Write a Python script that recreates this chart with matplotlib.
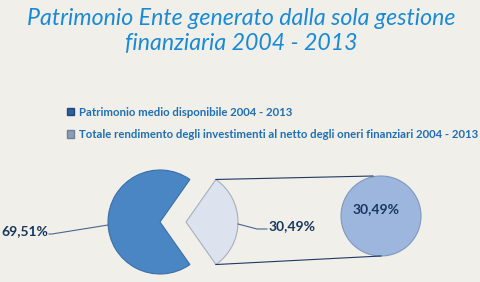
import numpy as np
import matplotlib
matplotlib.use("Agg")
import matplotlib.pyplot as plt
from matplotlib.patches import Patch

# data
categories = ["Patrimonio medio disponibile 2004 - 2013",
              "Totale rendimento degli investimenti al netto degli oneri finanziari 2004 - 2013"]
values = [69.51, 30.49]
secondary = [30.49]
title = "Patrimonio Ente generato dalla sola gestione\nfinanziaria 2004 - 2013"

plt.rcParams['font.family'] = ['Lato', 'DejaVu Sans']

bg = '#f1efe9'
fig = plt.figure(figsize=(4.81, 2.82), dpi=100, facecolor=bg)
ax = fig.add_axes([0, 0, 1, 1])
ax.set_facecolor(bg)

# pixel-like coordinate system (y down)
main_c = (160, 222)
r_main = 52
explode = 26
sec_c = (381, 216)
r_sec = 40

half = values[1] * 3.6 / 2
wedges, _ = ax.pie(values, center=main_c, radius=r_main, startangle=half,
                   explode=[0, explode], colors=['#4a86c4', '#dde3ee'],
                   wedgeprops=dict(linewidth=0.8))
wedges[0].set_edgecolor('#3a70a8')
wedges[1].set_edgecolor('#a7afbd')

sec, _ = ax.pie(secondary, center=sec_c, radius=r_sec, colors=['#9db6de'],
                wedgeprops=dict(linewidth=0.8, edgecolor='#7f98c0'))

ax.set_xlim(0, 481)
ax.set_ylim(282, 0)
ax.set_aspect('equal')
ax.axis('off')

# connector lines from exploded slice to secondary pie
ex_cx = main_c[0] + explode
t = np.radians(half)
top = (ex_cx + r_main * np.cos(t), main_c[1] - r_main * np.sin(t))
bot = (ex_cx + r_main * np.cos(t), main_c[1] + r_main * np.sin(t))
line_c = '#1f3864'
ax.plot([top[0], sec_c[0] - 8], [top[1], sec_c[1] - r_sec], color=line_c, lw=0.8)
ax.plot([bot[0], sec_c[0]], [bot[1], sec_c[1] + r_sec], color=line_c, lw=0.8)

def fmt(v):
    return f"{v:.2f}".replace('.', ',') + '%'

lab_c = '#17375e'
# leader for main slice
ax.plot([main_c[0] - r_main, 52, 49], [225, 234, 234], color='#4a6590', lw=0.8)
ax.text(48, 231, fmt(values[0]), ha='right', va='center', fontsize=10,
        color=lab_c, fontweight='bold')
# leader for exploded slice
ax.plot([ex_cx + r_main, 257, 267], [224, 229, 229], color='#4a6590', lw=0.8)
ax.text(269, 226, fmt(values[1]), ha='left', va='center', fontsize=10,
        color=lab_c, fontweight='bold')
# label inside the secondary pie
ax.text(sec_c[0] - 5, sec_c[1] - 7, fmt(secondary[0]), ha='center', va='center',
        fontsize=10, color=lab_c, fontweight='bold')

ax.text(241, 31, title, ha='center', va='center', fontsize=16.7, style='italic',
        color='#1a8ad4', linespacing=1.25)

handles = [Patch(facecolor='#2f5e9c', edgecolor='#24497a'),
           Patch(facecolor='#8d9db6', edgecolor='#6f7f99')]
ax.legend(handles, categories, loc='upper left', bbox_to_anchor=(0.14, 0.622),
          frameon=False, handlelength=0.6, handleheight=0.6, handletextpad=0.4,
          labelspacing=1.0, borderpad=0, borderaxespad=0,
          prop=dict(size=8.2, weight='bold'), labelcolor='#1f6fb2')

fig.savefig('out.png', dpi=100, facecolor=bg)
